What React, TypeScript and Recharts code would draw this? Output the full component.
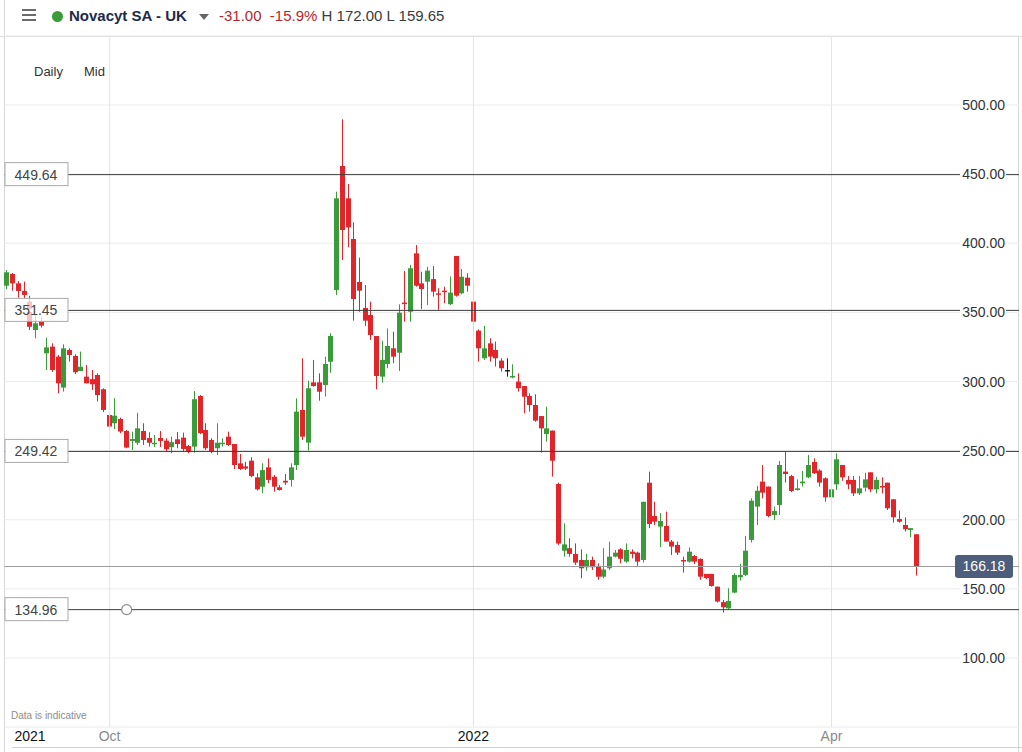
import React from 'react';
import { Bar, CartesianGrid, ComposedChart, ReferenceDot, ReferenceLine, XAxis, YAxis } from 'recharts';

// daily candles, early Sep 2021 -> late Apr 2022
const open = [
  369.3, 377.8, 371.0, 365.5, 357.7, 337.3, 343.3, 320.4, 325.2, 318.0,
  295.6, 322.8, 318.5, 307.6, 303.5, 301.7, 304.7, 294.4, 275.8, 269.8,
  272.9, 264.2, 257.0, 255.7, 264.2, 259.1, 254.8, 259.1, 257.2, 252.5,
  258.2, 259.4, 253.3, 252.9, 289.5, 264.9, 257.7, 251.7, 255.0, 260.1,
  254.8, 240.8, 238.6, 242.7, 230.7, 223.9, 237.9, 231.1, 223.5, 228.2,
  228.8, 239.6, 279.4, 255.8, 299.4, 299.4, 297.5, 314.3, 366.2, 455.9,
  432.5, 403.1, 372.0, 353.2, 348.1, 332.9, 303.5, 312.7, 324.0, 320.8,
  357.1, 350.5, 392.7, 371.0, 372.2, 374.1, 363.8, 365.7, 355.9, 390.8,
  363.8, 375.1, 357.8, 336.8, 316.8, 327.6, 322.8, 315.1, 308.3, 303.1,
  299.9, 296.7, 289.5, 283.0, 275.0, 262.0, 264.5, 225.9, 177.6, 179.4,
  175.3, 170.9, 165.6, 170.9, 166.6, 158.8, 164.9, 173.3, 178.6, 169.7,
  176.9, 176.2, 170.9, 226.8, 202.7, 195.0, 195.5, 184.2, 181.8, 170.9,
  169.7, 173.8, 171.6, 160.8, 160.8, 151.6, 140.4, 135.9, 147.3, 158.4,
  160.1, 185.4, 209.5, 227.6, 224.0, 203.4, 210.7, 234.8, 231.6, 221.5,
  226.4, 230.7, 241.8, 235.6, 230.0, 216.2, 225.6, 239.6, 228.8, 228.8,
  219.1, 223.2, 234.3, 222.0, 224.4, 226.8, 214.8, 200.5, 196.2, 192.6,
  189.5,
];
const high = [
  380.7, 378.5, 372.7, 372.2, 362.0, 348.1, 346.9, 331.7, 327.6, 319.2,
  326.9, 324.0, 319.7, 321.6, 311.9, 308.3, 305.9, 295.1, 276.3, 287.9,
  273.9, 264.9, 263.7, 277.4, 269.8, 263.3, 261.3, 264.2, 258.9, 260.1,
  263.5, 263.0, 254.1, 293.1, 290.2, 269.8, 258.9, 269.8, 258.9, 263.7,
  254.8, 247.6, 241.9, 245.2, 233.6, 240.8, 244.4, 232.4, 225.1, 233.1,
  240.8, 287.8, 316.8, 300.6, 315.6, 305.9, 318.0, 334.9, 437.3, 489.7,
  442.9, 415.1, 389.6, 369.8, 357.7, 332.9, 329.5, 338.4, 336.0, 355.8,
  379.9, 384.3, 398.7, 379.4, 383.0, 383.5, 367.5, 368.6, 376.0, 390.8,
  381.4, 378.3, 371.5, 337.8, 340.2, 331.3, 328.9, 316.8, 316.8, 312.4,
  305.9, 296.7, 291.5, 290.8, 275.0, 281.8, 264.5, 226.8, 197.4, 186.6,
  182.9, 178.6, 175.3, 173.3, 168.5, 179.4, 184.1, 178.1, 179.4, 182.9,
  178.6, 176.9, 213.0, 234.8, 213.0, 204.8, 205.9, 185.4, 184.2, 173.3,
  180.0, 174.5, 172.1, 160.8, 160.8, 151.6, 142.0, 150.4, 161.3, 168.1,
  188.3, 215.5, 224.5, 239.6, 224.0, 209.5, 242.5, 249.3, 232.4, 229.2,
  235.3, 246.8, 244.4, 236.6, 230.7, 224.0, 248.1, 239.6, 231.6, 231.6,
  231.6, 234.0, 234.3, 231.1, 230.7, 226.8, 214.8, 206.6, 201.8, 193.9,
  189.5,
];
const low = [
  366.7, 365.7, 360.6, 360.2, 337.3, 331.2, 339.0, 308.3, 307.0, 291.5,
  292.7, 314.4, 305.4, 307.6, 298.7, 293.9, 285.5, 277.8, 266.2, 265.6,
  262.6, 251.7, 250.5, 254.1, 254.1, 252.9, 252.6, 252.6, 249.3, 248.1,
  251.7, 249.8, 248.1, 248.6, 261.9, 250.5, 248.1, 246.8, 252.9, 253.4,
  236.7, 236.0, 236.0, 230.7, 221.1, 219.2, 226.5, 220.4, 221.1, 225.1,
  223.9, 236.0, 257.7, 250.0, 296.2, 286.1, 289.1, 306.3, 362.6, 387.9,
  397.1, 344.0, 350.5, 340.2, 330.0, 294.4, 299.2, 309.6, 313.2, 307.6,
  343.3, 343.3, 368.6, 352.4, 355.3, 361.4, 351.8, 356.6, 355.3, 361.4,
  363.1, 365.0, 333.6, 314.4, 315.6, 314.4, 310.8, 307.1, 303.5, 302.3,
  292.7, 277.0, 278.2, 270.9, 248.6, 256.5, 231.2, 181.8, 173.3, 173.3,
  167.3, 157.7, 163.2, 163.7, 156.5, 157.7, 163.7, 172.8, 168.5, 168.9,
  172.1, 166.6, 169.0, 193.9, 196.2, 180.2, 184.2, 174.5, 174.5, 161.8,
  169.0, 168.0, 156.5, 157.0, 151.6, 140.1, 132.8, 135.2, 146.9, 156.0,
  159.3, 183.5, 196.2, 215.5, 201.8, 199.8, 203.4, 226.9, 219.9, 221.1,
  224.0, 230.0, 233.1, 224.0, 213.0, 213.0, 221.5, 228.2, 222.0, 217.2,
  217.9, 220.4, 219.9, 219.1, 219.1, 207.0, 197.9, 197.9, 191.4, 187.4,
  159.6,
];
const close = [
  379.0, 371.0, 365.5, 362.6, 339.6, 342.1, 340.4, 324.7, 308.3, 298.7,
  324.0, 319.2, 306.7, 310.7, 298.7, 298.0, 290.2, 279.4, 267.4, 275.3,
  263.8, 252.2, 258.4, 266.1, 257.7, 255.7, 255.7, 257.0, 251.0, 256.1,
  254.8, 251.2, 249.3, 287.2, 262.6, 251.7, 249.3, 255.7, 255.7, 254.1,
  239.6, 236.7, 237.0, 231.6, 222.0, 235.9, 228.8, 223.9, 221.5, 226.9,
  237.9, 278.2, 260.1, 295.1, 296.7, 292.6, 312.7, 332.9, 432.5, 409.6,
  411.5, 359.7, 365.7, 344.0, 333.6, 304.0, 315.6, 325.7, 318.0, 349.8,
  356.1, 381.9, 369.3, 366.9, 380.2, 365.0, 363.1, 364.6, 364.3, 362.1,
  375.8, 369.3, 343.3, 324.0, 324.0, 318.0, 316.8, 309.6, 308.3, 304.0,
  295.1, 289.0, 283.0, 271.7, 266.1, 266.1, 242.7, 182.8, 182.2, 175.3,
  169.0, 164.9, 170.9, 165.6, 158.8, 164.0, 173.3, 176.2, 171.8, 178.1,
  175.3, 169.7, 213.0, 196.9, 198.6, 199.1, 184.2, 180.6, 176.2, 170.2,
  176.9, 169.7, 158.8, 157.8, 152.1, 140.8, 136.7, 141.2, 160.1, 160.1,
  177.6, 213.8, 221.0, 219.6, 202.7, 206.3, 239.6, 233.1, 220.8, 222.7,
  227.6, 239.6, 233.6, 226.9, 216.2, 222.0, 243.7, 230.7, 225.6, 219.1,
  222.7, 229.2, 222.0, 228.8, 223.5, 208.3, 201.8, 198.6, 193.1, 193.9,
  166.18,
];

const priceTicks = [100, 150, 200, 250, 300, 350, 400, 450, 500];
const monthTicks = [4, 18, 82, 145];
const monthLabels = ['2021', 'Oct', '2022', 'Apr'];
const monthLines = [18, 82, 145];
const drawnLevels = [449.64, 351.45, 249.42, 134.96];
const lastPrice = 166.18;
const anchorCandle = 21;

const UP = '#3a9b3a';
const DOWN = '#e1252b';
const FLAT = '#222';
const FONT = '"Liberation Sans", Arial, sans-serif';

const data = open.map((o, i) => ({ i, open: o, high: high[i], low: low[i], close: close[i] }));

function Candle(props: any) {
  const { x, y, width, height, payload } = props;
  const top = Math.min(y, y + height);
  const h = Math.abs(height);
  const { open: o, high: hi, low: lo, close: c } = payload;
  const span = hi - lo || 1;
  const toY = (v: number) => top + ((hi - v) / span) * h;
  const left = Math.round(x + width / 2 - 2.5);
  const color = c > o ? UP : c < o ? DOWN : FLAT;
  const bTop = toY(Math.max(o, c));
  const bBot = toY(Math.min(o, c));
  return (
    <g>
      <line x1={left + 2.5} x2={left + 2.5} y1={top} y2={top + h} stroke={color} strokeWidth={1} />
      <rect x={left} y={bTop} width={5} height={Math.max(bBot - bTop, 1.5)} fill={color} />
    </g>
  );
}

function PriceTick({ x, y, payload }: any) {
  return (
    <g>
      <rect x={x - 45} y={y - 7} width={46} height={14} fill="#fff" />
      <text x={x} y={y} dy={5} textAnchor="end" fontSize={14} fill="#333" fontFamily={FONT}>
        {Number(payload.value).toFixed(2)}
      </text>
    </g>
  );
}

function MonthTick({ x, y, payload }: any) {
  const text = monthLabels[monthTicks.indexOf(payload.value)];
  const isYear = /^\d{4}$/.test(text || '');
  return (
    <text x={x} y={y} dy={14} textAnchor="middle" fontSize={14} fill={isYear ? '#111' : '#8a8a8a'} fontFamily={FONT}>
      {text}
    </text>
  );
}

const levelLabel = (value: number) => (props: any) => {
  const ly = props.viewBox.y;
  return (
    <g>
      <rect x={5} y={ly - 1.5} width={63} height={3} fill="#fff" />
      <rect x={5} y={ly - 12} width={63} height={23} fill="#fff" fillOpacity={0.72} stroke="#a9a9a9" />
      <text x={36} y={ly} dy={5} textAnchor="middle" fontSize={14} fill="#444" fontFamily={FONT}>
        {value.toFixed(2)}
      </text>
    </g>
  );
};

const lastLabel = (props: any) => {
  const ly = props.viewBox.y;
  return (
    <g>
      <rect x={955} y={ly - 11.5} width={58} height={23} rx={3} fill="#4d5d7c" />
      <text x={984} y={ly} dy={5} textAnchor="middle" fontSize={14} fill="#fff" fontFamily={FONT}>
        {lastPrice.toFixed(2)}
      </text>
    </g>
  );
};

export default function App() {
  return (
    <div style={{ position: 'absolute', left: 0, top: 0, width: 1022, height: 752, background: '#fff', overflow: 'hidden', fontFamily: FONT }}>
      {/* header */}
      <div style={{ position: 'absolute', left: 0, top: 36, width: 1022, borderTop: '1px solid #dcdcdc' }} />
      <div style={{ position: 'absolute', left: 4, top: 0, height: 752, borderLeft: '1px solid #d6d6d6' }} />
      <div style={{ position: 'absolute', left: 1018, top: 37, height: 715, borderLeft: '1px solid #d6d6d6' }} />
      {[10, 15, 20].map((t) => (
        <div key={t} style={{ position: 'absolute', left: 22, top: t - 1, width: 14, height: 2, background: '#6b6b6b' }} />
      ))}
      <div style={{ position: 'absolute', left: 52, top: 11, width: 11, height: 11, borderRadius: 6, background: UP }} />
      <div style={{ position: 'absolute', left: 69, top: 7, fontSize: 15, fontWeight: 700, color: '#1c2a4a', whiteSpace: 'nowrap' }}>
        Novacyt SA - UK
      </div>
      <div style={{ position: 'absolute', left: 199, top: 14, width: 0, height: 0, borderLeft: '5px solid transparent', borderRight: '5px solid transparent', borderTop: '6px solid #666' }} />
      <div style={{ position: 'absolute', left: 219, top: 7, fontSize: 15, whiteSpace: 'nowrap' }}>
        <span style={{ color: '#b8262c' }}>-31.00&nbsp;&nbsp;-15.9%</span>
        <span style={{ color: '#3a3a3a' }}> H 172.00 L 159.65</span>
      </div>
      <div style={{ position: 'absolute', left: 34, top: 64, fontSize: 13, color: '#333' }}>Daily</div>
      <div style={{ position: 'absolute', left: 84, top: 64, fontSize: 13, color: '#333' }}>Mid</div>

      <div style={{ position: 'absolute', left: 0, top: 0 }}>
        <ComposedChart width={1022} height={752} data={data} margin={{ top: 35.9, right: 3, bottom: 0, left: 4.46 }}>
          <CartesianGrid vertical={false} stroke="#ebebeb" />
          {monthLines.map((m) => (
            <ReferenceLine key={m} x={m} stroke="#e4e4e4" />
          ))}
          <XAxis
            dataKey="i"
            type="category"
            ticks={monthTicks}
            interval={0}
            tick={<MonthTick />}
            tickLine={false}
            axisLine={false}
            tickSize={0}
            tickMargin={0}
            height={24.9}
            padding={{ left: 0, right: 99.4 }}
          />
          <ReferenceLine y={lastPrice} stroke="#9c9c9c" label={lastLabel} />
          {drawnLevels.map((v) => (
            <ReferenceLine key={v} y={v} stroke="#3c3c3c" label={levelLabel(v)} />
          ))}
          <ReferenceDot x={anchorCandle} y={drawnLevels[3]} r={5} fill="#fff" stroke="#8a8a8a" strokeWidth={1.2} />
          <Bar
            dataKey={(d: any) => [d.low, d.high]}
            barSize={5}
            shape={(p: any) => <Candle {...p} />}
            isAnimationActive={false}
          />
          <YAxis
            orientation="right"
            mirror
            domain={[50, 550]}
            ticks={priceTicks}
            allowDataOverflow
            tick={<PriceTick />}
            tickLine={false}
            axisLine={false}
            tickSize={0}
            tickMargin={14}
          />
        </ComposedChart>
      </div>

      <div style={{ position: 'absolute', left: 11, top: 710, fontSize: 10, color: '#8c8c8c' }}>Data is indicative</div>
      <div style={{ position: 'absolute', left: 12, top: 747, width: 1010, borderTop: '1px solid #d0d0d0' }} />
    </div>
  );
}
